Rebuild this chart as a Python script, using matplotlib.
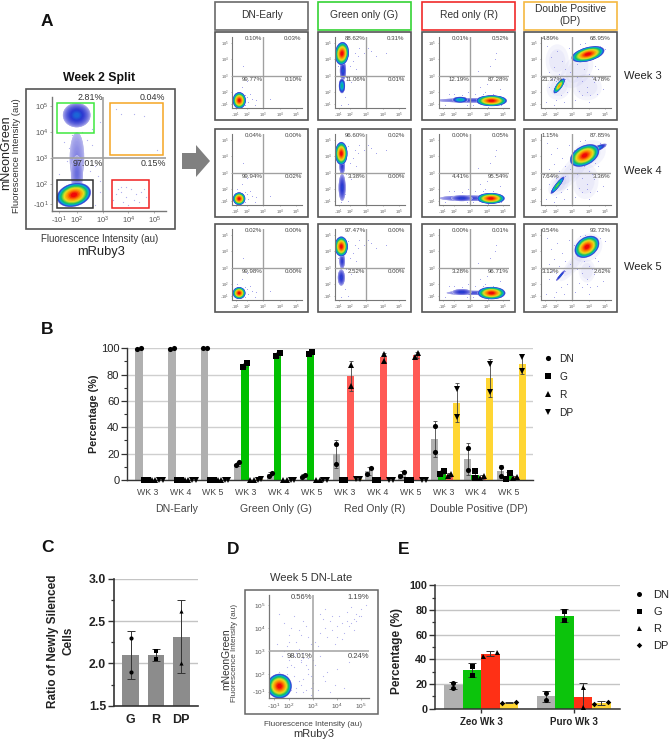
import numpy as np
import matplotlib
matplotlib.use("Agg")
import matplotlib.pyplot as plt
from matplotlib.colors import LinearSegmentedColormap
from matplotlib.lines import Line2D
from matplotlib.patches import Ellipse, Polygon, Rectangle

plt.rcParams['font.family'] = ['Liberation Sans', 'DejaVu Sans']
plt.rcParams['mathtext.default'] = 'regular'

W, H = 670, 741

# flow panels: percentages per quadrant (upper left, upper right, lower left, lower right)
columns = ["DN-Early", "Green only (G)", "Red only (R)", "Double Positive\n(DP)"]
column_colors = ["#6a6a6a", "#35d335", "#f02a2a", "#f5b942"]
weeks = ["Week 3", "Week 4", "Week 5"]
quad_dn = [["0.10%", "0.03%", "99.77%", "0.10%"],
           ["0.04%", "0.00%", "99.94%", "0.02%"],
           ["0.02%", "0.00%", "99.98%", "0.00%"]]
quad_g = [["88.62%", "0.31%", "11.06%", "0.01%"],
          ["96.60%", "0.02%", "3.38%", "0.00%"],
          ["97.47%", "0.00%", "2.52%", "0.00%"]]
quad_r = [["0.01%", "0.52%", "12.19%", "87.28%"],
          ["0.00%", "0.05%", "4.41%", "95.54%"],
          ["0.00%", "0.01%", "3.28%", "96.71%"]]
quad_dp = [["4.89%", "68.95%", "21.37%", "4.78%"],
           ["1.15%", "87.85%", "7.64%", "3.36%"],
           ["0.54%", "93.72%", "3.12%", "2.62%"]]

# density blobs: x, y, rx, ry, angle, top colour level
blobs_dn = [[(1.56, 1.5, .34, .43, 0, 1)],
            [(1.55, 1.42, .32, .33, 0, 1)],
            [(1.55, 1.46, .33, .31, 0, 1)]]
blobs_g = [[(1.6, 3.3, .16, .5, 0, .3), (1.54, 2.38, .16, .38, 0, .5), (1.54, 4.34, .36, .6, -5, 1)],
           [(1.55, 3.4, .14, .45, 0, .26), (1.55, 2.1, .18, .7, 0, .28), (1.5, 4.16, .32, .6, 0, 1)],
           [(1.55, 3.4, .14, .4, 0, .26), (1.5, 2.4, .18, .42, 0, .28), (1.5, 4.28, .34, .52, 0, 1)]]
blobs_r = [[(3.1, 1.5, 1.8, .11, 0, .22), (2.4, 1.54, .4, .15, 0, .5), (4.3, 1.48, .8, .28, 0, 1)],
           [(2.9, 1.45, 1.5, .14, 0, .24), (2.5, 1.45, .55, .15, 0, .28), (4.26, 1.44, .72, .28, 0, 1)],
           [(3.1, 1.47, 1.3, .11, 0, .22), (2.5, 1.52, .5, .15, 0, .28), (4.3, 1.46, .72, .32, 0, 1)]]
blobs_dp = [[(2.22, 2.38, .46, .15, 55, .82), (3.96, 4.3, .88, .36, 15, 1)],
            [(2.12, 2.24, .56, .11, 52, .62), (4.4, 4.4, .65, .14, 25, .45), (3.76, 4.04, .82, .5, 28, 1)],
            [(2.3, 2.52, .36, .05, 50, .33), (3.9, 4.26, .7, .5, 35, 1)]]
# pale clouds: x, y, rx, ry, angle
clouds_dp = [[(3.3, 3.3, 1.2, .8, 50), (2.1, 3.9, .7, 1.0, 0), (3.9, 2.3, .9, .8, 0), (2.2, 2.3, .8, .7, 50)],
             [(3.0, 3.1, 1.5, .55, 50), (3.8, 2.5, .8, 1.1, 0), (4.0, 4.1, 1.1, .8, 28), (2.2, 2.3, .8, .5, 50)],
             [(3.1, 3.2, 1.3, .35, 50), (3.9, 2.8, .5, .7, 0), (3.9, 4.2, 1.0, .8, 35)]]

# scattered events, one set per column
dots_dn_x = [1.9, 2.1, 2.3, 2.6, 1.4, 1.7, 2.0, 3.4, 1.9, 2.5, 2.2, 1.8, 3.0, 2.0]
dots_dn_y = [1.8, 1.4, 1.6, 1.5, 2.0, 2.3, 2.7, 1.6, 1.2, 1.2, 1.9, 3.6, 4.1, 1.7]
dots_g_x = [1.9, 2.3, 2.6, 3.3, 3.6, 2.0, 2.2, 1.8, 2.1, 1.3, 2.5, 2.9, 4.2, 1.7, 1.9, 2.4, 3.1, 1.5]
dots_g_y = [4.6, 4.4, 4.7, 4.5, 4.2, 3.6, 3.9, 2.9, 2.6, 3.6, 4.2, 4.4, 4.4, 1.7, 1.3, 3.4, 4.7, 1.2]
dots_r_x = [2.0, 2.9, 3.6, 3.9, 4.2, 4.5, 4.8, 4.0, 3.3, 2.5, 1.7, 1.5, 4.4, 3.8, 3.2, 4.1, 4.9, 2.8, 4.6, 3.5]
dots_r_y = [1.9, 2.0, 2.3, 2.0, 3.6, 4.0, 2.2, 2.5, 1.9, 1.8, 1.9, 1.2, 1.9, 1.9, 1.2, 1.1, 1.2, 1.2, 4.4, 3.3]
dots_dp_x = [1.5, 1.7, 1.9, 2.1, 2.4, 2.6, 2.8, 1.6, 1.8, 2.0, 2.3, 2.7, 1.4, 1.9, 2.2, 2.6, 3.2, 3.4,
             3.6, 3.9, 4.1, 4.3, 4.6, 4.9, 3.3, 3.7, 4.0, 4.4, 4.8, 3.1, 3.5, 3.8, 4.2, 3.0, 2.5, 2.0,
             1.6, 2.9, 3.3, 3.6, 4.0, 4.5, 5.0, 4.7, 3.4, 3.9]
dots_dp_y = [4.8, 4.1, 3.5, 4.5, 3.9, 3.4, 4.7, 3.2, 2.8, 1.5, 1.8, 2.0, 1.4, 1.2, 3.1, 2.8, 1.5, 2.1,
             2.7, 2.3, 1.8, 2.6, 3.4, 2.2, 3.7, 3.4, 3.1, 3.6, 3.0, 4.4, 4.9, 5.0, 2.9, 2.5, 1.4, 2.7,
             2.3, 3.2, 2.9, 1.8, 1.4, 1.9, 4.6, 4.8, 3.0, 2.0]

# week 2 split panel
main_labels = ["2.81%", "0.04%", "97.01%", "0.15%"]
main_blobs = [(2.0, 3.0, .24, .85, 0, .13), (2.0, 2.4, .2, .6, 0, .17), (1.99, 4.65, .46, .4, 0, .32),
              (1.88, 1.58, .58, .38, 15, 1)]
main_dots_x = [1.5, 1.7, 2.4, 2.6, 2.9, 1.8, 2.2, 2.6, 1.6, 2.7, 2.9, 2.3, 2.5, 3.4, 3.9, 3.7, 3.5, 3.9, 4.1,
               4.3, 4.5, 4.7, 4.4, 4.0, 3.8, 3.6, 4.2, 3.7, 4.6, 3.5, 3.7, 4.2, 4.6, 5.1, 1.3, 2.8, 2.9, 2.7]
main_dots_y = [3.6, 3.4, 3.7, 3.5, 4.4, 3.9, 4.0, 4.1, 2.9, 2.7, 2.1, 2.9, 2.5, 1.4, 1.9, 1.7, 1.6, 1.5, 1.8,
               1.6, 1.7, 1.5, 1.3, 1.2, 1.3, 1.8, 1.4, 1.9, 1.8, 4.9, 4.7, 4.7, 4.6, 3.3, 2.4, 2.3, 1.7, 1.2]

# week 5 DN-Late panel
late_labels = ["0.56%", "1.19%", "98.01%", "0.24%"]
late_blobs = [(1.6, 1.47, .44, .46, 0, 1)]
late_dots_x = [1.6, 1.8, 2.0, 2.2, 2.4, 2.6, 2.8, 1.5, 1.9, 2.1, 2.3, 2.5, 2.7, 2.9, 1.7, 2.0, 2.2, 2.6,
               2.8, 1.6, 1.9, 2.3, 2.5, 2.7, 2.9, 3.1, 3.3, 3.5, 3.7, 3.2, 3.4, 3.6, 3.8, 4.0, 4.2, 4.4,
               3.3, 3.5, 3.8, 4.0, 4.3, 4.5, 4.7, 4.9, 4.1, 4.4, 4.6, 4.8, 5.0, 5.2, 3.9, 4.2, 3.1, 3.6,
               2.2, 2.4, 2.6, 2.8, 3.0, 2.1, 2.3, 2.5, 2.7, 2.9, 3.0, 1.8, 2.0, 2.4, 2.6, 2.8, 3.2, 3.5,
               3.9, 4.3, 3.3, 4.0, 4.5, 3.7, 2.2, 2.5, 2.1, 1.9, 2.3, 2.6, 2.9, 3.4, 4.6, 4.8, 5.0, 4.7]
late_dots_y = [4.6, 4.2, 3.7, 4.5, 3.9, 4.3, 3.6, 3.3, 3.2, 4.0, 3.4, 3.7, 4.1, 3.3, 2.8, 2.6, 2.3, 2.7,
               2.2, 2.1, 2.0, 2.9, 2.5, 2.4, 1.9, 3.4, 3.8, 4.0, 4.3, 3.2, 4.4, 3.6, 3.9, 4.1, 4.2, 4.3,
               4.6, 4.8, 4.5, 3.6, 3.8, 4.1, 4.4, 4.5, 4.5, 4.7, 4.2, 4.6, 4.8, 5.0, 3.3, 3.5, 2.4, 2.1,
               1.9, 1.7, 1.8, 2.0, 1.6, 1.3, 1.4, 1.5, 1.3, 1.4, 2.6, 3.0, 3.4, 3.1, 2.9, 2.7, 1.3, 1.7,
               1.5, 1.4, 2.8, 2.2, 2.5, 1.2, 2.8, 2.6, 2.4, 2.3, 1.2, 1.2, 1.1, 1.9, 4.9, 4.3, 4.5, 3.9]

# panel B, two replicates for every bar
b_groups = ["WK 3", "WK 4", "WK 5"] * 4
b_sections = ["DN-Early", "Green Only (G)", "Red Only (R)", "Double Positive (DP)"]
b_dn = [[99.77, 99.9], [99.94, 99.8], [99.98, 99.9], [11.06, 13.5], [3.38, 5.5], [2.52, 4.0],
        [12.19, 27.0], [4.41, 9.0], [3.28, 6.3], [21.37, 41.0], [7.64, 24.5], [3.12, 10.0]]
b_g = [[.1, .3], [.04, .1], [.02, .1], [88.62, 86.0], [96.6, 94.2], [97.47, 96.0],
       [.01, .3], [0, .2], [0, .1], [4.89, 7.0], [1.15, 6.5], [.54, 5.2]]
b_r = [[.1, .05], [.02, .05], [0, .05], [.01, .1], [0, .1], [0, .1],
       [87.28, 71.0], [95.54, 90.5], [96.71, 93.5], [4.78, 3.0], [3.36, 1.5], [2.62, 1.5]]
b_dp = [[.03, .1], [0, .1], [0, .1], [.31, .6], [.02, .3], [0, .3],
        [.52, .9], [.05, .3], [.01, .3], [68.95, 48.0], [87.85, 67.0], [93.72, 83.0]]
b_colors = ["#b0b0b0", "#00c000", "#ff5a55", "#ffd633"]
b_markers = ["o", "s", "^", "v"]
b_names = ["DN", "G", "R", "DP"]

# panel C
c_names = ["G", "R", "DP"]
c_values = [[1.9, 2.3], [2.05, 2.15], [2.01, 2.62]]
c_markers = ["o", "s", "^"]

# panel E
e_groups = ["Zeo Wk 3", "Puro Wk 3"]
e_zeo = [[17.0, 21.0], [27.0, 35.0], [43.0, 46.0], [4.5, 5.5]]
e_puro = [[7.0, 13.0], [72.0, 79.0], [1.0, 17.5], [3.8, 5.8]]
e_colors = ["#b0b0b0", "#0cc40c", "#ff3015", "#ffd633"]
e_markers = ["o", "s", "^", "D"]

density = LinearSegmentedColormap.from_list("density", [
    (0, "#d2d2f4"), (.12, "#8a8ae4"), (.26, "#2a36d0"), (.4, "#08a8e0"),
    (.55, "#10c060"), (.7, "#e4e420"), (.85, "#ff8a00"), (1, "#f00808")])


def px_axes(x0, y0, x1, y1):
    ax = fig.add_axes([x0 / W, 1 - y1 / H, (x1 - x0) / W, (y1 - y0) / H])
    ax.patch.set_alpha(0)
    return ax


def draw_blob(ax, blob):
    x, y, rx, ry, angle, top = blob
    for level in np.linspace(.02, top, 18):
        t = (level - .02) / (top - .02)
        k = .22 + .95 * (1 - t ** 2)
        ax.add_patch(Ellipse((x, y), 2 * rx * k, 2 * ry * k, angle=angle,
                             fc=density(level), ec="none", zorder=2))


def flow_panel(rect, xlim, ylim, tick_x, tick_y, blobs, dots_x, dots_y, clouds=(), fs=3.0, lw=.8, ms=.5):
    ax = px_axes(*rect)
    ax.set_xlim(*xlim)
    ax.set_ylim(*ylim)
    for side in ["top", "right"]:
        ax.spines[side].set_visible(False)
    for side in ["left", "bottom"]:
        ax.spines[side].set_color("#777777")
        ax.spines[side].set_linewidth(lw)
    ax.set_xticks(tick_x)
    ax.set_yticks(tick_y)
    names = ["-10$^1$", "10$^2$", "10$^3$", "10$^4$", "10$^5$"]
    ax.set_xticklabels(names, fontsize=fs, color="#555555")
    ax.set_yticklabels(names, fontsize=fs, color="#555555")
    ax.tick_params(length=lw * 1.2, width=.4, pad=lw * 1.2, color="#777777")
    for c in clouds:
        for scale, alpha in [(1, .1), (.7, .1)]:
            ax.add_patch(Ellipse((c[0], c[1]), 2 * c[2] * scale, 2 * c[3] * scale, angle=c[4],
                                 fc="#9a9ae8", ec="none", alpha=alpha, zorder=1))
    ax.scatter(dots_x, dots_y, s=ms, color="#8c8ce6", alpha=.7, lw=0, zorder=1)
    for blob in blobs:
        draw_blob(ax, blob)
    ax.axvline(3, color="#a0a0a0", lw=lw * 1.2, zorder=3)
    ax.axhline(3, color="#a0a0a0", lw=lw * 1.2, zorder=3)
    return ax


fig = plt.figure(figsize=(W / 100, H / 100), dpi=100)
page = fig.add_axes([0, 0, 1, 1], zorder=10)
page.set_xlim(0, W)
page.set_ylim(H, 0)
page.axis("off")
page.patch.set_alpha(0)

for letter, x, y in [("A", 47, 22), ("B", 47, 329), ("C", 47, 547), ("D", 233, 549), ("E", 404, 549)]:
    page.text(x, y, letter, fontsize=12.5, fontweight="bold", ha="center", va="center", color="#111111")

# A, main panel
page.add_patch(Rectangle((26, 89), 149, 140, fc="none", ec="#555555", lw=1.2))
page.text(99, 78, "Week 2 Split", fontsize=8.8, fontweight="bold", ha="center", va="center", color="#111111")
page.text(100, 239, "Fluorescence Intensity (au)", fontsize=7, ha="center", va="center", color="#333333")
page.text(101, 252, "mRuby3", fontsize=9.3, ha="center", va="center", color="#222222")
page.text(6.5, 153, "mNeonGreen", fontsize=9, rotation=90, ha="center", va="center", color="#222222")
page.text(16.5, 156, "Fluorescence Intensity (au)", fontsize=6.8, rotation=90, ha="center", va="center", color="#333333")
main = flow_panel((52, 97, 166, 211), (1.03, 5.46), (.96, 5.35), [1.3, 2, 3, 4, 5], [1.23, 2, 3, 4, 5],
                  main_blobs, main_dots_x, main_dots_y, fs=5.5, lw=1.0, ms=.8)
for x0, x1, y0, y1, col in [(1.22, 2.66, 3.96, 5.12, "#3ee83e"), (3.28, 5.35, 3.12, 5.12, "#f5a623"),
                            (3.36, 4.8, 1.08, 2.15, "#f02020"), (1.22, 2.62, 1.08, 2.15, "#333333")]:
    main.add_patch(Rectangle((x0, y0), x1 - x0, y1 - y0, fc="none", ec=col, lw=1.1, zorder=4))
for (x, y), label in zip([(3.0, 5.32), (5.42, 5.32), (3.02, 2.8), (5.46, 2.8)], main_labels):
    main.text(x, y, label, fontsize=6.4, ha="right", va="center", color="#333333", zorder=5, clip_on=False)

page.add_patch(Polygon([(182, 153), (196, 153), (196, 145), (210, 161), (196, 177), (196, 169), (182, 169)],
                       fc="#808080", ec="none"))

# A, grid of small panels
col_x = [215, 318, 422, 524]
row_y = [32, 129, 224]
col_quads = [quad_dn, quad_g, quad_r, quad_dp]
col_blobs = [blobs_dn, blobs_g, blobs_r, blobs_dp]
col_dots = [(dots_dn_x, dots_dn_y), (dots_g_x, dots_g_y), (dots_r_x, dots_r_y), (dots_dp_x, dots_dp_y)]
for c, x0 in enumerate(col_x):
    page.add_patch(Rectangle((x0, 1.5), 92.5, 28, fc="none", ec=column_colors[c], lw=1.2))
    page.text(x0 + 46.5, 15.5, columns[c], fontsize=7.4, ha="center", va="center", color="#333333", linespacing=1.25)
    for r, y0 in enumerate(row_y):
        page.add_patch(Rectangle((x0, y0), 92.5, 88, fc="none", ec="#555555", lw=1.2))
        clouds = clouds_dp[r] if c == 3 else ()
        ax = flow_panel((x0 + 16.7, y0 + 4.7, x0 + 86.7, y0 + 76), (1.1, 5.34), (1.04, 5.36),
                        [1.36, 2, 3, 4, 5], [1.28, 2, 3, 4, 5], col_blobs[c][r],
                        col_dots[c][0], col_dots[c][1], clouds=clouds, fs=2.8)
        q = col_quads[c][r]
        ul_x, ul_ha = (1.16, "left") if c == 3 else (2.96, "right")
        ax.text(ul_x, 5.24, q[0], fontsize=4.4, ha=ul_ha, va="center", color="#444444", zorder=5)
        ax.text(5.34, 5.24, q[1], fontsize=4.4, ha="right", va="center", color="#444444", zorder=5)
        ax.text(ul_x, 2.78, q[2], fontsize=4.4, ha=ul_ha, va="center", color="#444444", zorder=5)
        ax.text(5.34, 2.78, q[3], fontsize=4.4, ha="right", va="center", color="#444444", zorder=5)
for week, y in zip(weeks, [76, 171, 267]):
    page.text(624, y, week, fontsize=8, ha="left", va="center", color="#222222")

# B
ax_b = px_axes(127, 348.3, 532.7, 480)
ax_b.set_xlim(-1.64, 53.9)
ax_b.set_ylim(0, 100)
ax_b.set_axisbelow(True)
ax_b.yaxis.grid(True, color="#cfcfcf", lw=1)
centers = []
for i in range(12):
    start = 4.5 * i
    centers.append(start + 1.15)
    for j, series in enumerate([b_dn, b_g, b_r, b_dp]):
        vals = series[i]
        pos = start + j
        ax_b.bar(pos, np.mean(vals), width=1, color=b_colors[j], zorder=2)
        ax_b.errorbar(pos, np.mean(vals), yerr=np.std(vals, ddof=1), fmt="none", ecolor="#444444",
                      elinewidth=.6, capsize=1.4, capthick=.6, zorder=3)
        off = .25 if abs(vals[0] - vals[1]) < 5 else 0
        ax_b.plot([pos - off, pos + off], sorted(vals), ls="none", marker=b_markers[j], ms=3.7,
                  color="black", mew=0, zorder=4, clip_on=False)
ax_b.set_xticks(centers)
ax_b.set_xticklabels(b_groups, fontsize=6.3, color="#444444")
ax_b.tick_params(axis="x", length=0, pad=6)
ax_b.set_yticks(range(0, 101, 20))
ax_b.set_yticks(range(0, 101, 10), minor=True)
ax_b.tick_params(axis="y", labelsize=8, length=4, width=.9, color="#333333", labelcolor="#222222", pad=1.5)
ax_b.tick_params(axis="y", which="minor", length=2.5, width=.8, color="#333333")
ax_b.set_ylabel("Percentage (%)", fontsize=7.8, fontweight="bold", color="#222222", labelpad=1.5)
for side in ["top", "right"]:
    ax_b.spines[side].set_visible(False)
for side in ["left", "bottom"]:
    ax_b.spines[side].set_color("#333333")
    ax_b.spines[side].set_linewidth(1)
for name, x in zip(b_sections, [176.7, 276, 374.7, 479]):
    page.text(x, 509, name, fontsize=7.6, ha="center", va="center", color="#444444")
handles_b = [Line2D([], [], ls="none", marker=m, ms=3.7, color="black", mew=0) for m in b_markers]
fig.legend(handles_b, b_names, loc="upper left", bbox_to_anchor=(543 / W, 1 - 353.5 / H), frameon=False,
           fontsize=7.3, labelspacing=.8, handlelength=1, handletextpad=.6, borderpad=0, borderaxespad=0,
           labelcolor="#222222")

# C
ax_c = px_axes(113.7, 578.7, 198, 705.7)
ax_c.set_xlim(-.67, 2.66)
ax_c.set_ylim(1.5, 3.0)
ax_c.set_axisbelow(True)
ax_c.yaxis.grid(True, color="#c4c4c4", lw=1)
for i, vals in enumerate(c_values):
    ax_c.bar(i, np.mean(vals), width=.66, color="#8c8c8c", zorder=2)
    ax_c.errorbar(i, np.mean(vals), yerr=np.std(vals, ddof=1), fmt="none", ecolor="#333333",
                  elinewidth=.7, capsize=3.2, capthick=.7, zorder=3)
    ax_c.plot([i, i], vals, ls="none", marker=c_markers[i], ms=3, color="black", mew=0, zorder=4)
ax_c.set_xticks(range(3))
ax_c.set_xticklabels(c_names, fontsize=9, fontweight="bold", color="#222222")
ax_c.set_yticks([1.5, 2.0, 2.5, 3.0])
ax_c.set_yticks([1.75, 2.25, 2.75], minor=True)
ax_c.tick_params(axis="x", length=0, pad=6)
ax_c.tick_params(axis="y", length=4, width=1, pad=1.5, color="#333333")
ax_c.tick_params(axis="y", which="minor", length=2.5, width=.9, color="#333333")
for t in ax_c.get_yticklabels():
    t.set_fontsize(8.8)
    t.set_fontweight("bold")
    t.set_color("#222222")
for side in ["top", "right"]:
    ax_c.spines[side].set_visible(False)
for side in ["left", "bottom"]:
    ax_c.spines[side].set_color("#333333")
    ax_c.spines[side].set_linewidth(1.2)
page.text(61, 641, "Ratio of Newly Silenced\nCells", fontsize=8.5, fontweight="bold", rotation=90,
          ha="center", va="center", color="#222222", multialignment="center", linespacing=1.35)

# D
page.add_patch(Rectangle((245, 589.7), 132.7, 124.3, fc="none", ec="#666666", lw=1.1))
page.text(311, 578, "Week 5 DN-Late", fontsize=8, ha="center", va="center", color="#333333")
page.text(313, 724.7, "Fluorescence Intensity (au)", fontsize=5.9, ha="center", va="center", color="#444444")
page.text(314, 734, "mRuby3", fontsize=7.9, ha="center", va="center", color="#333333")
page.text(226.5, 659, "mNeonGreen", fontsize=7.4, rotation=90, ha="center", va="center", color="#333333")
page.text(235, 652.7, "Fluorescence Intensity (au)", fontsize=5.9, rotation=90, ha="center", va="center", color="#444444")
late = flow_panel((268.7, 595, 369.3, 698.3), (1.15, 5.35), (.94, 5.43), [1.36, 2, 3, 4, 5], [1.23, 2, 3, 4, 5],
                  late_blobs, late_dots_x, late_dots_y, fs=4.6, lw=.9, ms=.7)
for (x, y), label in zip([(2.98, 5.3), (5.33, 5.3), (2.98, 2.77), (5.33, 2.77)], late_labels):
    late.text(x, y, label, fontsize=5.5, ha="right", va="center", color="#444444", zorder=5)

# E
ax_e = px_axes(435, 585.3, 620, 708.7)
ax_e.set_xlim(-.99, 9.01)
ax_e.set_ylim(0, 100)
ax_e.set_axisbelow(True)
ax_e.yaxis.grid(True, color="#c4c4c4", lw=1)
for g, series in enumerate([e_zeo, e_puro]):
    for j, vals in enumerate(series):
        pos = 5 * g + j
        ax_e.bar(pos, np.mean(vals), width=1, color=e_colors[j], zorder=2)
        ax_e.errorbar(pos, np.mean(vals), yerr=np.std(vals, ddof=1), fmt="none", ecolor="#333333",
                      elinewidth=.7, capsize=3, capthick=.7, zorder=3)
        off = .37 if abs(vals[0] - vals[1]) <= 3 else 0
        ax_e.plot([pos - off, pos + off], sorted(vals), ls="none", marker=e_markers[j],
                  ms=2.8 if j == 3 else 3.6, color="black", mew=0, zorder=4, clip_on=False)
ax_e.set_xticks([1.5, 6.5])
ax_e.set_xticklabels(e_groups, fontsize=7, fontweight="bold", color="#222222")
ax_e.set_yticks(range(0, 101, 20))
ax_e.set_yticks(range(10, 100, 20), minor=True)
ax_e.tick_params(axis="x", length=3, width=1, pad=3, color="#333333")
ax_e.tick_params(axis="y", length=4, width=1, pad=1.5, color="#333333")
ax_e.tick_params(axis="y", which="minor", length=2.5, width=.9, color="#333333")
for t in ax_e.get_yticklabels():
    t.set_fontsize(7.8)
    t.set_fontweight("bold")
    t.set_color("#222222")
for side in ["top", "right"]:
    ax_e.spines[side].set_visible(False)
for side in ["left", "bottom"]:
    ax_e.spines[side].set_color("#333333")
    ax_e.spines[side].set_linewidth(1.1)
page.text(397, 651, "Percentage (%)", fontsize=8.6, fontweight="bold", rotation=90, ha="center", va="center", color="#222222")
handles_e = [Line2D([], [], ls="none", marker=m, ms=2.8 if m == "D" else 3.6, color="black", mew=0) for m in e_markers]
fig.legend(handles_e, b_names, loc="upper left", bbox_to_anchor=(633 / W, 1 - 590 / H), frameon=False,
           fontsize=8, labelspacing=.62, handlelength=1, handletextpad=.85, borderpad=0, borderaxespad=0,
           labelcolor="#222222")

fig.savefig("out.png", dpi=100)
